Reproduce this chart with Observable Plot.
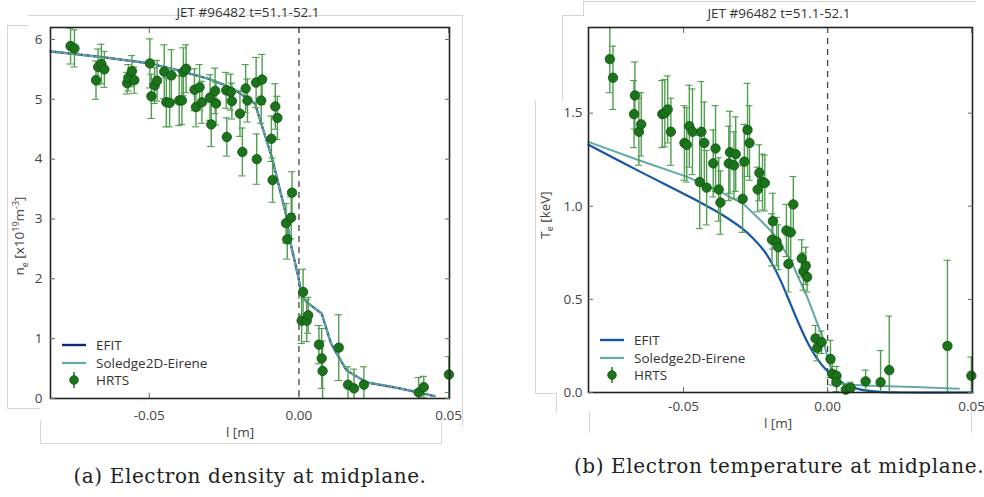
<!DOCTYPE html>
<html>
<head>
<meta charset="utf-8">
<script src="https://cdn.jsdelivr.net/npm/d3@7"></script>
<script src="https://cdn.jsdelivr.net/npm/@observablehq/plot@0.6"></script>
<style>
  html, body { margin: 0; padding: 0; background: #fff; }
  #root { position: relative; width: 984px; height: 497px; overflow: hidden; background: #fff; font-family: "Open Sans", sans-serif; }
  .abs { position: absolute; }
  .title { font-size: 13.5px; color: #333; white-space: nowrap; transform: translateX(-50%); }
  .ylab { font-size: 13.5px; color: #444; white-space: nowrap; transform: translate(-50%, -50%) rotate(-90deg); }
  .xlab { font-size: 13.5px; color: #444; white-space: nowrap; transform: translateX(-50%); }
  .cap { font-family: "DejaVu Serif", serif; font-size: 20px; letter-spacing: 0.6px; color: #222; white-space: nowrap; transform: translateX(-50%); }
  .deco { border: 0 solid #d6d6d6; }
  .legend { font-size: 13.5px; color: #333; }
  .legend .row { position: absolute; left: 0; height: 18px; display: flex; align-items: center; white-space: nowrap; }
  .legend svg { overflow: visible; }
  sub, sup { font-size: 9px; }
  svg.plot { overflow: visible; }
</style>
</head>
<body>
<div id="root"></div>
<script>
// ---------------- data: electron density (panel a) ----------------
const neX = [-0.0763,-0.0750,-0.0678,-0.0671,-0.0660,-0.0650,-0.0574,-0.0570,-0.0558,-0.0550,
  -0.0498,-0.0493,-0.0482,-0.0474,-0.0450,-0.0443,-0.0432,-0.0426,-0.0400,-0.0391,
  -0.0386,-0.0377,-0.0349,-0.0344,-0.0332,-0.0324,-0.0297,-0.0293,-0.0280,-0.0277,
  -0.0243,-0.0241,-0.0228,-0.0224,-0.0197,-0.0189,-0.0178,-0.0172,-0.0143,-0.0141,
  -0.0126,-0.0123,-0.0092,-0.0088,-0.0079,-0.0072,-0.0043,-0.0039,-0.0026,-0.0023,
  0.0014,0.0009,0.0026,0.0031,0.0067,0.0076,0.0079,0.0133,0.0164,0.0184,
  0.0217,0.0400,0.0417,0.0501];
const neY = [5.89,5.85,5.32,5.54,5.59,5.50,5.27,5.36,5.47,5.32,
  5.60,5.05,5.23,5.31,5.46,4.95,4.94,5.40,4.98,4.98,
  5.46,5.51,5.16,4.87,5.20,4.95,5.03,4.58,5.14,4.93,
  5.15,4.37,5.12,4.97,4.76,4.12,5.18,4.98,5.28,4.00,
  4.98,5.33,4.34,3.65,4.88,4.69,2.93,2.66,3.02,3.44,
  1.78,1.30,1.30,1.39,0.90,0.67,0.46,0.85,0.23,0.17,
  0.23,0.10,0.19,0.40];
const neErr = [0.30,0.31,0.32,0.30,0.33,0.30,0.18,0.22,0.26,0.22,
  0.41,0.37,0.30,0.34,0.45,0.41,0.40,0.43,0.42,0.40,
  0.40,0.40,0.35,0.33,0.38,0.35,0.38,0.37,0.38,0.36,
  0.30,0.32,0.30,0.30,0.38,0.40,0.40,0.36,0.42,0.42,
  0.38,0.42,0.38,0.37,0.38,0.36,0.33,0.33,0.35,0.35,
  0.38,0.38,0.35,0.30,0.32,0.50,0.50,0.55,0.30,0.32,
  0.30,0.25,0.18,0.30];
const neSolX = [-0.083,-0.065,-0.050,-0.040,-0.030,-0.022,-0.0147,-0.0091,-0.0044,-0.0030,-0.0002,0.0009,0.0026,0.0076,0.0107,0.0159,0.0226,0.0337,0.0453];
const neSolY = [5.80,5.70,5.60,5.48,5.34,5.18,4.93,4.04,3.09,2.64,2.03,1.72,1.61,1.42,0.92,0.47,0.27,0.17,0.04];
const neEfitX = [-0.083,-0.065,-0.050,-0.040,-0.030,-0.022,-0.0147,-0.0091,-0.0044,-0.0030,-0.0002,0.0009,0.0026,0.0076,0.0107,0.0159,0.0226,0.0337,0.0453];
const neEfitY = [5.80,5.70,5.60,5.48,5.34,5.18,4.93,4.04,3.09,2.64,2.03,1.72,1.61,1.42,0.92,0.47,0.27,0.17,0.04];

// ---------------- data: electron temperature (panel b) ----------------
const teX = [-0.0756,-0.0745,-0.0669,-0.0672,-0.0655,-0.0647,-0.0574,-0.0565,-0.0555,-0.0544,
  -0.0497,-0.0489,-0.0480,-0.0469,-0.0444,-0.0438,-0.0428,-0.0420,-0.0397,-0.0389,
  -0.0378,-0.0372,-0.0343,-0.0339,-0.0325,-0.0319,-0.0295,-0.0289,-0.0278,-0.0271,
  -0.0243,-0.0237,-0.0226,-0.0218,-0.0190,-0.0193,-0.0177,-0.0171,-0.0143,-0.0136,
  -0.0128,-0.0119,-0.0090,-0.0084,-0.0076,-0.0071,-0.0042,-0.0036,-0.0021,0.0010,
  0.0016,0.0031,0.0031,0.0063,0.0080,0.0132,0.0184,0.0214,0.0416,0.0499];
const teY = [1.79,1.69,1.595,1.495,1.40,1.44,1.495,1.50,1.52,1.40,
  1.34,1.33,1.43,1.40,1.13,1.40,1.34,1.10,1.23,1.31,
  1.09,1.02,1.23,1.29,1.22,1.28,1.04,1.24,1.41,1.34,
  1.09,1.18,1.13,1.125,0.92,0.82,0.81,0.78,0.87,0.69,
  0.86,1.01,0.72,0.65,0.68,0.62,0.29,0.24,0.27,0.18,
  0.10,0.09,0.055,0.015,0.025,0.06,0.055,0.12,0.25,0.09];
const teErr = [0.18,0.17,0.18,0.18,0.18,0.17,0.18,0.18,0.18,0.18,
  0.20,0.20,0.22,0.23,0.25,0.27,0.22,0.20,0.18,0.23,
  0.17,0.17,0.20,0.22,0.18,0.20,0.18,0.20,0.25,0.20,
  0.12,0.15,0.15,0.15,0.15,0.14,0.13,0.12,0.14,0.15,
  0.15,0.15,0.10,0.10,0.10,0.08,0.07,0.07,0.06,0.10,
  0.06,0.05,0.05,0.03,0.03,0.06,0.17,0.29,0.46,0.10];
const teSolX = [-0.083,-0.0655,-0.0487,-0.0372,-0.029,-0.0233,-0.0186,-0.0128,-0.0070,-0.0018,0.0005,0.0034,0.0045,0.0126,0.030,0.0456];
const teSolY = [1.346,1.247,1.158,1.077,1.01,0.925,0.85,0.71,0.51,0.30,0.154,0.082,0.047,0.038,0.029,0.020];
const teEfitX = [-0.083,-0.0656,-0.0441,-0.0372,-0.030,-0.026,-0.022,-0.019,-0.016,-0.013,-0.010,-0.007,-0.004,-0.001,0.003,0.007,0.012,0.018,0.025,0.0503];
const teEfitY = [1.33,1.19,1.02,0.96,0.885,0.83,0.76,0.685,0.59,0.48,0.37,0.27,0.19,0.13,0.075,0.037,0.014,0.003,0.0,0.0];

const xTicks = [-0.05, 0, 0.05];
const xTickLabels = ["-0.05", "0.00", "0.05"];
const neTicks = [0, 1, 2, 3, 4, 5, 6];
const teTicks = [0, 0.5, 1.0, 1.5];
const teTickLabels = ["0.0", "0.5", "1.0", "1.5"];
const seriesNames = ["EFIT", "Soledge2D-Eirene", "HRTS"];
const titleText = "JET #96482 t=51.1-52.1";
const captions = ["(a) Electron density at midplane.", "(b) Electron temperature at midplane."];

// ---------------- styles ----------------
const GREEN = "#1b741b", GREEN_DARK = "#0e4f0e", ERR = "#4e9e4e";
const TEAL = "#62a9a7", NAVY_A = "#0d2b6e", NAVY_B = "#1756a6";
const CAP = 0.0012;

const pts = (xs, ys, es) => xs.map((x, i) => ({x, y: ys[i], e: es[i]}));
const crv = (xs, ys) => xs.map((x, i) => ({x, y: ys[i]}));

function panel({data, sol, efit, efitColor, efitCurve, solDash, width, mL, mR, mT, mB, yDomain, yTicks, yFmt, xPad, yPad}) {
  const xf = d => xTickLabels[xTicks.indexOf(d)];
  return Plot.plot({
    width, height: 440,
    marginLeft: mL, marginRight: mR, marginTop: mT, marginBottom: mB,
    x: {domain: [-0.083, 0.0503]},
    y: {domain: yDomain},
    style: {fontFamily: "Open Sans, sans-serif", fontSize: "13.5px", color: "#444", background: "transparent", overflow: "visible"},
    className: "plot",
    marks: [
      Plot.ruleX([0], {stroke: "#444", strokeWidth: 1.3, strokeDasharray: "6,5"}),
      Plot.line(efit, {x: "x", y: "y", stroke: efitColor, strokeWidth: 2.2, curve: efitCurve}),
      Plot.line(sol, {x: "x", y: "y", stroke: TEAL, strokeWidth: 2, curve: "linear", strokeDasharray: solDash}),
      Plot.ruleX(data, {x: "x", y1: d => d.y - d.e, y2: d => d.y + d.e, stroke: ERR, strokeWidth: 1.4, clip: true}),
      Plot.ruleY(data, {y: d => d.y + d.e, x1: d => d.x - CAP, x2: d => d.x + CAP, stroke: ERR, strokeWidth: 1.1, clip: true}),
      Plot.ruleY(data, {y: d => d.y - d.e, x1: d => d.x - CAP, x2: d => d.x + CAP, stroke: ERR, strokeWidth: 1.1, clip: true}),
      Plot.dot(data, {x: "x", y: "y", r: 4.7, fill: GREEN, stroke: GREEN_DARK, strokeWidth: 0.8}),
      Plot.frame({stroke: "#222", strokeWidth: 1.6}),
      Plot.axisX({ticks: xTicks, anchor: "bottom", tickSize: 0, tickPadding: xPad, tickFormat: xf, label: null}),
      Plot.axisX({ticks: xTicks, anchor: "bottom", tickSize: -5, tickFormat: () => "", label: null, stroke: "#666"}),
      Plot.axisX({ticks: xTicks, anchor: "top", tickSize: -5, tickFormat: () => "", label: null, stroke: "#666"}),
      Plot.axisY({ticks: yTicks, anchor: "left", tickSize: 0, tickPadding: yPad, tickFormat: yFmt, label: null}),
      Plot.axisY({ticks: yTicks, anchor: "left", tickSize: -5, tickFormat: () => "", label: null, stroke: "#666"}),
      Plot.axisY({ticks: yTicks, anchor: "right", tickSize: -5, tickFormat: () => "", label: null, stroke: "#666"})
    ]
  });
}

const root = document.getElementById("root");
function add(html, cls, css) {
  const el = document.createElement("div");
  el.className = "abs " + (cls || "");
  Object.assign(el.style, css);
  el.innerHTML = html;
  root.appendChild(el);
  return el;
}

// decorative scan borders
add("", "deco", {left: "28px", top: "15px", width: "435px", height: "0px", borderTopWidth: "1px"});
add("", "deco", {left: "7px", top: "25px", width: "21px", height: "383px", borderLeftWidth: "1px", borderTopWidth: "1px"});
add("", "deco", {left: "462px", top: "15px", width: "0px", height: "412px", borderLeftWidth: "1px"});
add("", "deco", {left: "7px", top: "408px", width: "33px", height: "0px", borderTopWidth: "1px"});
add("", "deco", {left: "40px", top: "420px", width: "400px", height: "23px", borderLeftWidth: "1px", borderBottomWidth: "1px", borderRightWidth: "1px"});
add("", "deco", {left: "583px", top: "1px", width: "392px", height: "14px", borderLeftWidth: "1px", borderTopWidth: "1px"});
add("", "deco", {left: "562px", top: "15px", width: "21px", height: "85px", borderLeftWidth: "1px", borderTopWidth: "1px"});
add("", "deco", {left: "535px", top: "100px", width: "0px", height: "293px", borderLeftWidth: "1px"});
add("", "deco", {left: "535px", top: "393px", width: "21px", height: "19px", borderTopWidth: "1px", borderRightWidth: "1px"});
add("", "deco", {left: "589px", top: "412px", width: "381px", height: "21px", borderLeftWidth: "1px", borderRightWidth: "1px"});

// panel (a)
const svgA = panel({
  data: pts(neX, neY, neErr), sol: crv(neSolX, neSolY), efit: crv(neEfitX, neEfitY),
  efitColor: NAVY_A, efitCurve: "linear", solDash: "4,2.5", width: 470, mL: 50, mR: 21, mT: 27, mB: 42,
  yDomain: [0, 6.2], yTicks: neTicks, yFmt: d => String(d), xPad: 12, yPad: 8
});
const wrapA = add("", "", {left: "0px", top: "0px"});
wrapA.appendChild(svgA);

// panel (b)
const svgB = panel({
  data: pts(teX, teY, teErr), sol: crv(teSolX, teSolY), efit: crv(teEfitX, teEfitY),
  efitColor: NAVY_B, efitCurve: "catmull-rom", solDash: null, width: 464, mL: 68, mR: 12, mT: 27, mB: 48,
  yDomain: [0, 1.96], yTicks: teTicks, yFmt: d => teTickLabels[teTicks.indexOf(d)], xPad: 9, yPad: 6
});
const wrapB = add("", "", {left: "520px", top: "0px"});
wrapB.appendChild(svgB);

// titles
add(titleText, "title", {left: "248px", top: "3px"});
add(titleText, "title", {left: "779px", top: "4px"});

// axis labels
add("l [m]", "xlab", {left: "240px", top: "423px"});
add("l [m]", "xlab", {left: "778px", top: "414px"});
add("n<sub>e</sub> [x10<sup>19</sup>m<sup>-3</sup>]", "ylab", {left: "20px", top: "236px"});
add("T<sub>e</sub> [keV]", "ylab", {left: "546px", top: "215px"});

// legends
function legend(left, top, efitColor) {
  const lg = add("", "legend", {left: left + "px", top: top + "px", width: "170px", height: "60px"});
  const rows = [
    `<svg width="24" height="10"><line x1="0" y1="5" x2="24" y2="5" stroke="${efitColor}" stroke-width="2.4"/></svg>`,
    `<svg width="24" height="10"><line x1="0" y1="5" x2="24" y2="5" stroke="${TEAL}" stroke-width="2.2"/></svg>`,
    `<svg width="24" height="18"><line x1="12" y1="1" x2="12" y2="17" stroke="${ERR}" stroke-width="2"/><circle cx="12" cy="9" r="4.3" fill="${GREEN}" stroke="${GREEN_DARK}" stroke-width="0.8"/></svg>`
  ];
  rows.forEach((s, i) => {
    const r = document.createElement("div");
    r.className = "row";
    r.style.top = (i * 17.5) + "px";
    r.innerHTML = s + `<span style="margin-left:10px">${seriesNames[i]}</span>`;
    lg.appendChild(r);
  });
}
legend(62, 336, NAVY_A);
legend(600, 331, NAVY_B);

// captions
add(captions[0], "cap", {left: "250px", top: "464px"});
add(captions[1], "cap", {left: "779px", top: "454px"});
</script>
</body>
</html>
